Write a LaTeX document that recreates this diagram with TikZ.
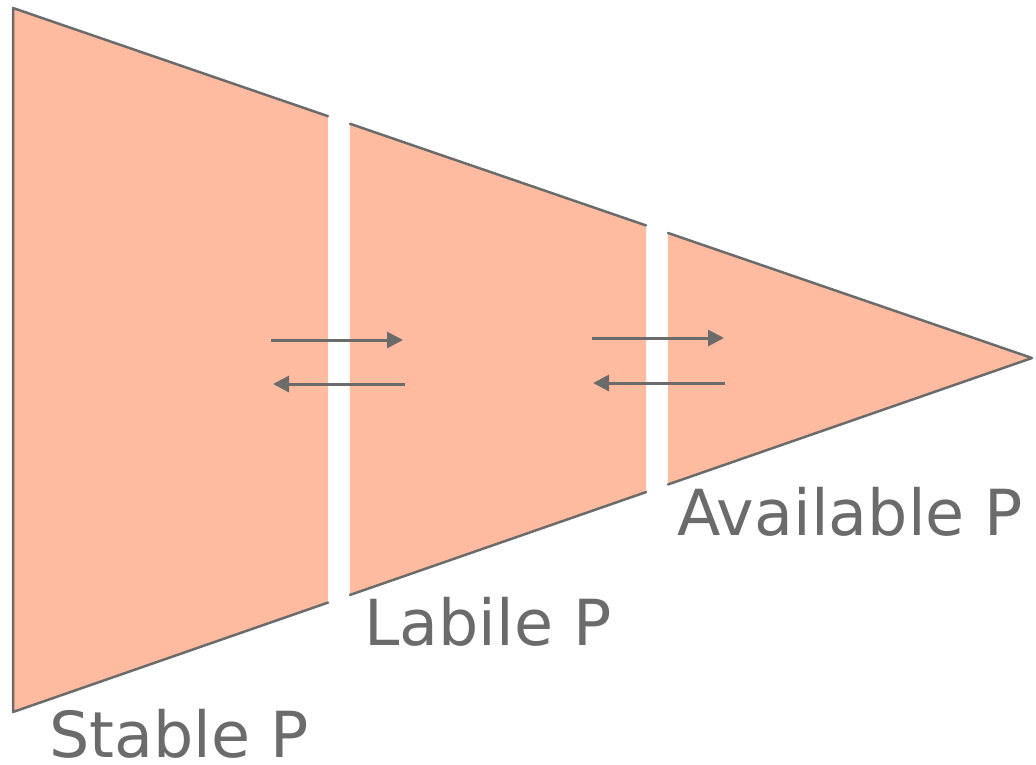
\documentclass[tikz,border=0pt]{standalone}
\usepackage{fontspec}
\setmainfont{DejaVu Sans}
\usetikzlibrary{calc,arrows.meta}
\definecolor{pfill}{HTML}{FFBBA0}
\definecolor{pgray}{HTML}{6B6B6B}
\tikzset{
  edge/.style={draw=pgray, line width=2.5pt, line cap=round, line join=round},
  flow/.style={draw=pgray, line width=3pt, -{Triangle[length=16pt,width=16pt]}},
  lbl/.style={anchor=base west, inner sep=0pt, text depth=0pt, text=pgray, font=\fontsize{63.5}{63.5}\selectfont}
}
\begin{document}
\begin{tikzpicture}[x=1pt,y=-1pt]
\useasboundingbox (0,0) rectangle (1036,764);
\coordinate (A) at (13,8);
\coordinate (B) at (13,712);
\coordinate (T) at (1032,358);
% split points
\coordinate (a1) at ($(A)!0.3091!(T)$);
\coordinate (b1) at ($(B)!0.3091!(T)$);
\coordinate (a2) at ($(A)!0.3307!(T)$);
\coordinate (b2) at ($(B)!0.3307!(T)$);
\coordinate (a3) at ($(A)!0.6212!(T)$);
\coordinate (b3) at ($(B)!0.6212!(T)$);
\coordinate (a4) at ($(A)!0.6428!(T)$);
\coordinate (b4) at ($(B)!0.6428!(T)$);
% fills
\fill[pfill] (A) -- (a1) -- (b1) -- (B) -- cycle;
\fill[pfill] (a2) -- (a3) -- (b3) -- (b2) -- cycle;
\fill[pfill] (a4) -- (T) -- (b4) -- cycle;
% outlines
\draw[edge] (a1) -- (A) -- (B) -- (b1);
\draw[edge] (a2) -- (a3);
\draw[edge] (b2) -- (b3);
\draw[edge] (a4) -- (T) -- (b4);
% arrows
\coordinate (l1s) at (271,340);
\coordinate (l1e) at (403,340);
\coordinate (l2s) at (405,384);
\coordinate (l2e) at (273,384);
\coordinate (r1s) at (592,338);
\coordinate (r1e) at (724,338);
\coordinate (r2s) at (725,383);
\coordinate (r2e) at (593,383);
\draw[flow] (l1s) -- (l1e);
\draw[flow] (l2s) -- (l2e);
\draw[flow] (r1s) -- (r1e);
\draw[flow] (r2s) -- (r2e);
% labels
\node[lbl] (stable) at (49,757) {Stable P};
\node[lbl] (labile) at (364,645) {Labile P};
\node[lbl] (avail) at (677,535) {Available P};
\end{tikzpicture}
\end{document}
